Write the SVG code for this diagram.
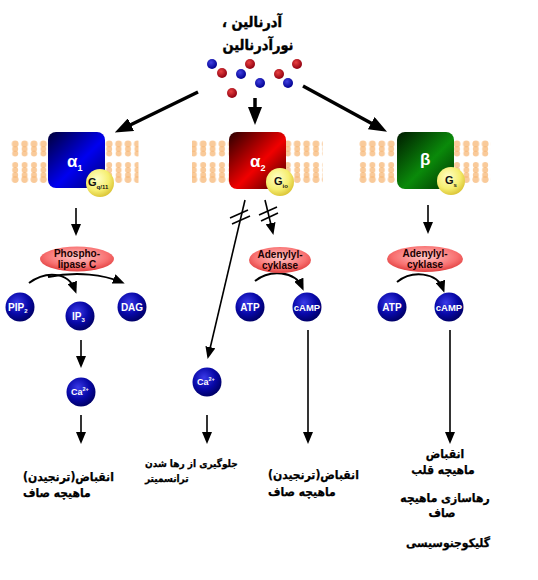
<svg xmlns="http://www.w3.org/2000/svg" width="538" height="580" viewBox="0 0 538 580">
<defs>
<style>
.fa{font-family:"DejaVu Sans Condensed","DejaVu Sans","Noto Sans",sans-serif;font-stretch:condensed;font-weight:bold;font-size:12px;fill:#000;stroke:#000;stroke-width:0.25}
.ti{stroke-width:0.4;font-size:14.5px}
.sm{font-size:10px}
.lab{font-family:"Liberation Sans",Arial,sans-serif;font-weight:bold;fill:#fff}
.enz{font-family:"Liberation Sans",Arial,sans-serif;font-weight:bold;font-size:10px;fill:#1a0000}
.g{font-family:"Liberation Sans",Arial,sans-serif;font-weight:bold;fill:#111}
.big{stroke:#000;stroke-width:3.5;fill:none}
.thin{stroke:#000;stroke-width:1.6;fill:none}
.cur{stroke:#000;stroke-width:2;fill:none}
</style>
<marker id="bh" markerUnits="userSpaceOnUse" markerWidth="18" markerHeight="14" refX="10" refY="7" orient="auto"><path d="M0,0 L18,7 L0,14 z" fill="#000"/></marker>
<marker id="sh" markerUnits="userSpaceOnUse" markerWidth="12" markerHeight="10" refX="8" refY="5" orient="auto"><path d="M0,0 L12,5 L0,10 z" fill="#000"/></marker>
<linearGradient id="gb" x1="0" y1="0" x2="1" y2="1"><stop offset="0" stop-color="#000038"/><stop offset="0.55" stop-color="#0000f0"/><stop offset="1" stop-color="#000070"/></linearGradient>
<linearGradient id="gr" x1="0" y1="0" x2="1" y2="1"><stop offset="0" stop-color="#2a0000"/><stop offset="0.55" stop-color="#f00000"/><stop offset="1" stop-color="#3a0000"/></linearGradient>
<linearGradient id="gg" x1="0" y1="0" x2="1" y2="1"><stop offset="0" stop-color="#001a00"/><stop offset="0.55" stop-color="#0a8a0a"/><stop offset="1" stop-color="#003000"/></linearGradient>
<radialGradient id="ball" cx="0.4" cy="0.35" r="0.65"><stop offset="0" stop-color="#3a3ae8"/><stop offset="0.6" stop-color="#0808a8"/><stop offset="1" stop-color="#00006a"/></radialGradient>
<radialGradient id="yel" cx="0.4" cy="0.35" r="0.7"><stop offset="0" stop-color="#ffffc8"/><stop offset="0.6" stop-color="#f6ee70"/><stop offset="1" stop-color="#d8c030"/></radialGradient>
<radialGradient id="ell" cx="0.5" cy="0.4" r="0.6"><stop offset="0" stop-color="#ffc8c8"/><stop offset="0.7" stop-color="#f87070"/><stop offset="1" stop-color="#e04040"/></radialGradient>
<radialGradient id="rd" cx="0.4" cy="0.35" r="0.65"><stop offset="0" stop-color="#e84040"/><stop offset="1" stop-color="#900010"/></radialGradient>
<radialGradient id="bd" cx="0.4" cy="0.35" r="0.65"><stop offset="0" stop-color="#4040e0"/><stop offset="1" stop-color="#000090"/></radialGradient>
<pattern id="lip" patternUnits="userSpaceOnUse" x="10.5" y="139" width="9.4" height="46">
<g fill="#f6b878" fill-opacity="0.75">
<circle cx="4.7" cy="5" r="3.4"/><circle cx="4.7" cy="10" r="3"/><circle cx="4.7" cy="14.5" r="3"/>
<circle cx="4.7" cy="26" r="3"/><circle cx="4.7" cy="31" r="3"/><circle cx="4.7" cy="36" r="3"/><circle cx="4.7" cy="40.5" r="3.4"/>
</g>
</pattern>
</defs>
<rect width="538" height="580" fill="#fff"/>

<g id="title">
<text class="fa ti" x="252" y="27" text-anchor="middle" direction="rtl">آدرنالین ،</text>
<text class="fa ti" x="258" y="50" text-anchor="middle" direction="rtl">نورآدرنالین</text>
</g>

<g id="ligands">
<circle cx="212" cy="64" r="5" fill="url(#bd)"/>
<circle cx="222" cy="73" r="5" fill="url(#rd)"/>
<circle cx="241" cy="74" r="5" fill="url(#bd)"/>
<circle cx="250" cy="64" r="5" fill="url(#rd)"/>
<circle cx="260" cy="83" r="5" fill="url(#bd)"/>
<circle cx="232" cy="93" r="5" fill="url(#rd)"/>
<circle cx="279" cy="74" r="5" fill="url(#rd)"/>
<circle cx="297" cy="64" r="5" fill="url(#rd)"/>
<circle cx="288" cy="83" r="5" fill="url(#bd)"/>
</g>

<g id="membranes">
<rect x="10.5" y="139" width="128" height="46" fill="url(#lip)"/>
<rect x="192" y="139" width="131" height="46" fill="url(#lip)"/>
<rect x="359" y="139" width="132" height="46" fill="url(#lip)"/>
</g>

<g id="connectors">
<line class="big" x1="198" y1="92" x2="122" y2="129" marker-end="url(#bh)"/>
<line class="big" x1="255" y1="98" x2="255" y2="117" marker-end="url(#bh)"/>
<line class="big" x1="303" y1="86" x2="380" y2="128" marker-end="url(#bh)"/>

<line class="thin" x1="76" y1="208" x2="76" y2="232" marker-end="url(#sh)"/>
<line class="thin" x1="428" y1="205" x2="428" y2="230" marker-end="url(#sh)"/>

<line class="thin" x1="245" y1="200" x2="208.5" y2="355" marker-end="url(#sh)"/>
<line class="thin" x1="230" y1="218" x2="248" y2="210"/>
<line class="thin" x1="232" y1="224" x2="250" y2="216"/>
<line class="thin" x1="265" y1="200" x2="272.5" y2="231" marker-end="url(#sh)"/>
<line class="thin" x1="259" y1="215" x2="277" y2="207"/>
<line class="thin" x1="261" y1="221" x2="278" y2="213"/>

<path class="cur" d="M29,283 C45,271 68,271 75,290" marker-end="url(#sh)"/>
<path class="cur" d="M48,277 C78,271 104,275 121,282" marker-end="url(#sh)"/>
<path class="cur" d="M255,281 C270,269 295,271 302,287" marker-end="url(#sh)"/>
<path class="cur" d="M397,282 C412,270 437,272 443,289" marker-end="url(#sh)"/>

<line class="thin" x1="81" y1="340" x2="81" y2="364" marker-end="url(#sh)"/>
<line class="thin" x1="81" y1="415" x2="81" y2="440" marker-end="url(#sh)"/>
<line class="thin" x1="207" y1="415" x2="207" y2="440" marker-end="url(#sh)"/>
<line class="thin" x1="308" y1="330" x2="308" y2="440" marker-end="url(#sh)"/>
<line class="thin" x1="450" y1="330" x2="450" y2="440" marker-end="url(#sh)"/>
</g>

<g id="alpha1">
<rect x="48" y="132" width="57" height="56" rx="8" fill="url(#gb)"/>
<text class="lab" x="67" y="167" font-size="17">α<tspan font-size="9" dy="4">1</tspan></text>
<circle cx="100" cy="183" r="14" fill="url(#yel)"/>
<text class="g" x="88" y="186" font-size="11">G<tspan font-size="6" dy="3">q/11</tspan></text>
</g>

<g id="alpha2">
<rect x="229" y="132" width="57" height="57" rx="8" fill="url(#gr)"/>
<text class="lab" x="250" y="167" font-size="17">α<tspan font-size="9" dy="4">2</tspan></text>
<circle cx="280" cy="182" r="14" fill="url(#yel)"/>
<text class="g" x="274" y="185" font-size="11">G<tspan font-size="6" dy="3">io</tspan></text>
</g>

<g id="beta">
<rect x="397" y="132" width="57" height="57" rx="8" fill="url(#gg)"/>
<text class="lab" x="420" y="165" font-size="17" fill="#e0ffe0">β</text>
<circle cx="451" cy="181" r="14" fill="url(#yel)"/>
<text class="g" x="445" y="184" font-size="11">G<tspan font-size="6" dy="3">s</tspan></text>
</g>

<g id="plc">
<ellipse cx="77" cy="259" rx="37" ry="12.5" fill="url(#ell)"/>
<text class="enz" x="77" y="257" text-anchor="middle">Phospho-</text>
<text class="enz" x="77" y="268" text-anchor="middle">lipase C</text>
</g>
<g id="ac1">
<ellipse cx="280" cy="260" rx="31" ry="13" fill="url(#ell)"/>
<text class="enz" x="280" y="258" text-anchor="middle">Adenylyl-</text>
<text class="enz" x="280" y="269" text-anchor="middle">cyklase</text>
</g>
<g id="ac2">
<ellipse cx="425" cy="259" rx="38" ry="13" fill="url(#ell)"/>
<text class="enz" x="425" y="257" text-anchor="middle">Adenylyl-</text>
<text class="enz" x="425" y="268" text-anchor="middle">cyklase</text>
</g>

<g id="pip2"><circle cx="20" cy="307" r="14.5" fill="url(#ball)"/><text class="lab" x="8" y="311" font-size="10">PIP<tspan font-size="6" dy="2">2</tspan></text></g>
<g id="ip3"><circle cx="80" cy="316" r="14.5" fill="url(#ball)"/><text class="lab" x="72" y="320" font-size="10">IP<tspan font-size="6" dy="2">3</tspan></text></g>
<g id="dag"><circle cx="132" cy="307" r="14.5" fill="url(#ball)"/><text class="lab" x="132" y="311" font-size="10" text-anchor="middle">DAG</text></g>
<g id="atp1"><circle cx="250" cy="307" r="14.5" fill="url(#ball)"/><text class="lab" x="250" y="311" font-size="10" text-anchor="middle">ATP</text></g>
<g id="camp1"><circle cx="307" cy="307" r="14.5" fill="url(#ball)"/><text class="lab" x="307" y="311" font-size="9.5" text-anchor="middle">cAMP</text></g>
<g id="atp2"><circle cx="392" cy="307" r="14.5" fill="url(#ball)"/><text class="lab" x="392" y="311" font-size="10" text-anchor="middle">ATP</text></g>
<g id="camp2"><circle cx="449" cy="307" r="14.5" fill="url(#ball)"/><text class="lab" x="449" y="311" font-size="9.5" text-anchor="middle">cAMP</text></g>
<g id="ca1"><circle cx="81" cy="392" r="14.5" fill="url(#ball)"/><text class="lab" x="71" y="395" font-size="9">Ca<tspan font-size="5.5" dy="-4">2+</tspan></text></g>
<g id="ca2"><circle cx="207" cy="382" r="14.5" fill="url(#ball)"/><text class="lab" x="197" y="385" font-size="9">Ca<tspan font-size="5.5" dy="-4">2+</tspan></text></g>

<g id="out1">
<text class="fa" x="23" y="481" text-anchor="end" direction="rtl">انقباض(ترنجیدن)</text>
<text class="fa" x="23" y="497" text-anchor="end" direction="rtl">ماهیچه صاف</text>
</g>
<g id="out2">
<text class="fa sm" x="145" y="467" text-anchor="end" direction="rtl">جلوگیری از رها شدن</text>
<text class="fa sm" x="145" y="482" text-anchor="end" direction="rtl">ترانسمیتر</text>
</g>
<g id="out3">
<text class="fa" x="268" y="479" text-anchor="end" direction="rtl">انقباض(ترنجیدن)</text>
<text class="fa" x="268" y="496" text-anchor="end" direction="rtl">ماهیچه صاف</text>
</g>
<g id="out4">
<text class="fa" x="445" y="458" text-anchor="middle" direction="rtl">انقباض</text>
<text class="fa" x="443" y="474" text-anchor="middle" direction="rtl">ماهیچه قلب</text>
<text class="fa" x="445" y="502" text-anchor="middle" direction="rtl">رهاسازی ماهیچه</text>
<text class="fa" x="442" y="517" text-anchor="middle" direction="rtl">صاف</text>
<text class="fa" x="448" y="547" text-anchor="middle" direction="rtl">گلیکوجنوسیسی</text>
</g>
</svg>
